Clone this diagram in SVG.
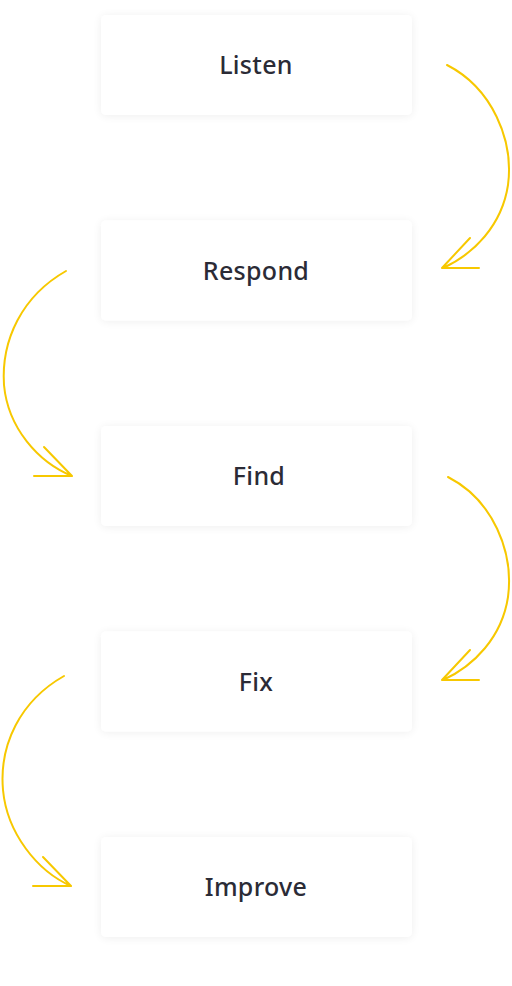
<svg xmlns="http://www.w3.org/2000/svg" width="512" height="986" viewBox="0 0 512 986">
<defs>
<filter id="sh" x="-20%" y="-30%" width="140%" height="160%">
<feGaussianBlur in="SourceAlpha" stdDeviation="5"/>
<feOffset dy="1"/>
<feComponentTransfer><feFuncA type="linear" slope="0.07"/></feComponentTransfer>
<feMerge><feMergeNode/><feMergeNode in="SourceGraphic"/></feMerge>
</filter>
</defs>
<style>
.box{fill:#ffffff;filter:url(#sh)}
.lbl{font-family:"Noto Sans","DejaVu Sans",sans-serif;font-size:25px;font-weight:500;fill:#2b2b36;text-anchor:middle;letter-spacing:0.3px}
.arr{fill:none;stroke:#f7c800;stroke-width:2;stroke-linecap:round;stroke-linejoin:round}
</style>
<rect width="512" height="986" fill="#ffffff"/>
<g id="connectors">
<path class="arr" d="M447,65 C492,88 514,140 508,185 C502,225 474,254 443,268 M470,238 L442,268 L479,268"/>
<path class="arr" d="M66,271 C22,296 1,340 4,385 C8,428 38,462 72,476 M44,447 L72,476 L34,476"/>
<path class="arr" d="M448,477 C493,500 514,552 508,597 C502,637 474,666 443,680 M470,650 L442,680 L479,680"/>
<path class="arr" d="M64,676 C20,701 -1,745 3,790 C7,833 37,871 71,886 M43,857 L71,886 L33,886"/>
</g>
<g id="listen"><rect class="box" x="101" y="15" width="311" height="100" rx="5"/><text class="lbl" x="256" y="74">Listen</text></g>
<g id="respond"><rect class="box" x="101" y="220.5" width="311" height="100" rx="5"/><text class="lbl" x="256" y="280">Respond</text></g>
<g id="find"><rect class="box" x="101" y="426" width="311" height="100" rx="5"/><text class="lbl" x="259" y="485">Find</text></g>
<g id="fix"><rect class="box" x="101" y="631.5" width="311" height="100" rx="5"/><text class="lbl" x="256" y="691">Fix</text></g>
<g id="improve"><rect class="box" x="101" y="837" width="311" height="100" rx="5"/><text class="lbl" x="256" y="896">Improve</text></g>
</svg>
